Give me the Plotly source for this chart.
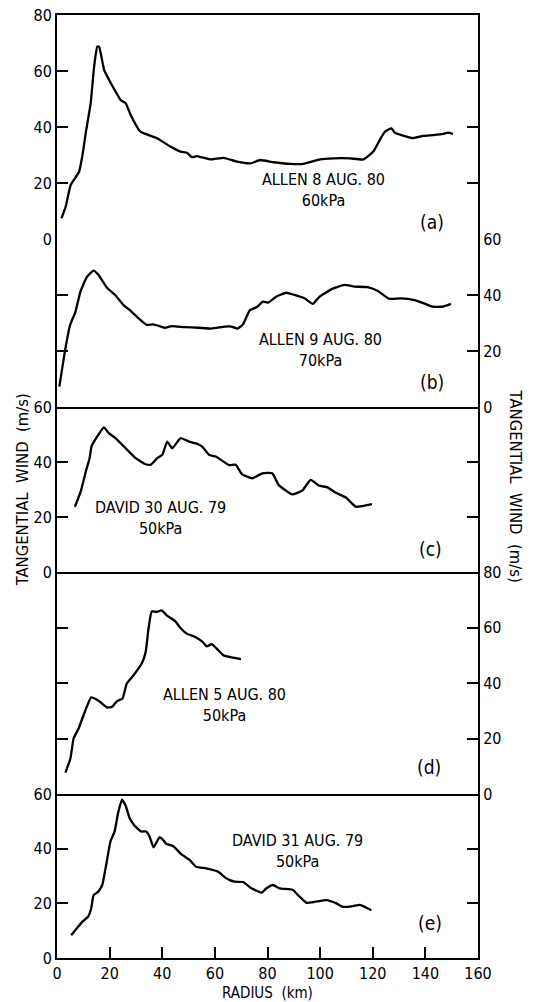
import plotly.graph_objects as go
from plotly.subplots import make_subplots

# ---------------- data (radius km, tangential wind m/s) ----------------
r_a = [1.7, 3.3, 5.2, 8.4, 9.7, 10.9, 12.8, 14.1, 15.3, 16.0, 17.9, 19.8, 22.3, 24.2, 26.1, 28.0,
       31.7, 38.0, 43.1, 46.9, 49.4, 51.3, 53.2, 58.3, 63.4, 68.4, 73.5, 77.2, 82.3, 88.6, 93.6,
       100.0, 105.0, 111.3, 116.4, 120.2, 122.7, 124.6, 127.1, 128.3, 130.9, 135.3, 139.1, 142.9,
       146.7, 148.6, 150.5]
v_a = [7.4, 11.5, 19.3, 24.0, 30.0, 37.7, 48.5, 61.5, 68.7, 68.7, 60.4, 56.8, 52.6, 49.6, 48.5, 44.3,
       38.3, 36.0, 33.0, 31.2, 30.8, 29.2, 29.6, 28.4, 29.0, 27.6, 27.0, 28.2, 27.4, 26.8, 26.8,
       28.4, 28.8, 28.8, 28.4, 31.2, 35.4, 38.3, 39.5, 38.0, 37.1, 36.0, 36.8, 37.1,
       37.5, 38.0, 37.5]

r_b = [0.9, 3.1, 5.0, 7.0, 8.9, 11.4, 13.9, 15.8, 18.9, 22.1, 25.3, 28.4, 30.9, 34.1, 36.6, 41.0,
       43.6, 48.6, 53.7, 58.7, 63.8, 66.3, 68.6, 70.7, 73.3, 75.8, 78.3, 80.2, 83.3, 87.1, 90.3,
       94.1, 97.2, 99.8, 104.2, 109.2, 113.0, 118.0, 121.8, 126.3, 130.7, 135.8, 139.5, 142.7,
       146.5, 149.7]
v_b = [7.3, 20.4, 29.3, 34.0, 41.2, 46.5, 48.7, 47.1, 42.7, 40.0, 36.4, 34.0, 31.7, 29.3, 29.5, 28.3,
       28.9, 28.5, 28.3, 28.0, 28.7, 28.7, 28.0, 29.5, 34.6, 35.6, 37.6, 37.3, 39.4, 40.8, 40.0,
       38.8, 36.8, 39.4, 42.0, 43.6, 43.0, 42.8, 41.5, 38.6, 38.8, 38.2, 37.0, 35.8,
       35.8, 36.8]

r_c = [6.8, 9.0, 11.1, 12.4, 13.1, 15.3, 17.8, 19.7, 22.2, 26.1, 29.9, 33.7, 35.6, 38.1, 40.0, 41.9,
       43.8, 47.0, 50.2, 53.3, 55.2, 57.8, 60.3, 65.4, 67.9, 70.4, 74.2, 78.0, 81.8, 84.3, 89.4,
       93.2, 96.4, 99.6, 102.8, 106.0, 109.8, 113.6, 116.1, 119.7]
v_c = [23.7, 29.2, 37.1, 41.4, 45.6, 49.3, 52.6, 50.5, 48.7, 45.0, 41.4, 39.2, 39.0, 41.4, 42.6, 47.4,
       45.0, 48.7, 47.4, 46.6, 45.6, 42.6, 42.0, 38.9, 39.0, 35.5, 34.1, 35.9, 35.9, 31.6, 28.2,
       29.6, 33.5, 31.4, 30.8, 28.8, 27.1, 23.7, 24.0, 24.7]

r_d = [3.2, 5.1, 6.3, 8.2, 10.8, 13.0, 15.8, 19.0, 20.9, 22.8, 24.9, 26.5, 29.1, 32.2, 33.7, 34.7,
       36.0, 37.9, 39.8, 41.7, 44.9, 46.8, 49.3, 52.5, 55.0, 56.9, 58.8, 60.7, 63.2, 66.4, 69.9]
v_d = [7.7, 12.8, 20.0, 23.6, 30.2, 34.8, 33.6, 31.2, 31.4, 33.5, 34.4, 39.8, 42.8, 47.0, 51.2, 59.0,
       65.8, 65.6, 66.2, 64.4, 62.3, 60.0, 57.8, 56.6, 55.1, 53.2, 54.0, 52.4, 50.0, 49.2, 48.6]

r_e = [5.4, 8.0, 9.9, 11.8, 13.0, 13.9, 15.6, 17.2, 18.8, 20.3, 21.9, 23.2, 24.7, 26.1, 27.6, 29.5,
       32.0, 33.9, 35.2, 36.7, 39.0, 40.3, 41.5, 44.1, 47.2, 50.4, 52.9, 56.7, 61.2, 64.3, 67.5,
       70.7, 73.9, 77.7, 79.6, 82.1, 84.6, 89.7, 91.6, 94.8, 97.9, 102.4, 106.2, 108.7, 112.5,
       115.1, 117.6, 119.5]
v_e = [8.3, 11.4, 13.5, 15.1, 18.1, 23.0, 24.2, 26.7, 34.7, 42.6, 46.3, 53.0, 57.9, 55.7, 51.2, 48.4,
       46.3, 46.3, 44.4, 40.5, 44.2, 43.2, 41.8, 41.0, 38.0, 35.9, 33.4, 32.8, 31.6, 29.2, 27.9,
       27.8, 25.5, 23.9, 25.5, 26.7, 25.5, 24.9, 23.0, 20.2, 20.5, 21.2, 20.0, 18.7, 19.0,
       19.4, 18.4, 17.5]

panel_names = ["ALLEN 8 AUG. 80<br>60kPa", "ALLEN 9 AUG. 80<br>70kPa", "DAVID 30 AUG. 79<br>50kPa",
               "ALLEN 5 AUG. 80<br>50kPa", "DAVID 31 AUG. 79<br>50kPa"]
panel_letters = ["(a)", "(b)", "(c)", "(d)", "(e)"]
y_max = [80, 60, 60, 80, 60]
y_side = ["left", "right", "left", "right", "left"]
x_ticks = [0, 20, 40, 60, 80, 100, 120, 140, 160]

# ---------------- figure ----------------
FONT = "DejaVu Sans Condensed, Liberation Sans Narrow, DejaVu Sans, sans-serif"
fig = make_subplots(rows=5, cols=1, shared_xaxes=True, vertical_spacing=0,
                    row_heights=[0.2375, 0.1782, 0.175, 0.2354, 0.1739])

series = [(r_a, v_a), (r_b, v_b), (r_c, v_c), (r_d, v_d), (r_e, v_e)]
for i, (rr, vv) in enumerate(series):
    fig.add_trace(go.Scatter(x=rr, y=vv, mode="lines",
                             line=dict(color="black", width=2.3, shape="spline", smoothing=0.4),
                             showlegend=False, hoverinfo="skip"), row=i + 1, col=1)

for i in range(5):
    fig.update_yaxes(row=i + 1, col=1, range=[0, y_max[i]],
                     tickvals=list(range(0, y_max[i] + 1, 20)),
                     side=y_side[i], ticks="inside", ticklen=11, tickwidth=2, tickcolor="black",
                     showline=True, linecolor="black", linewidth=2, mirror="ticks",
                     showgrid=False, zeroline=False, automargin=False,
                     tickfont=dict(family=FONT, size=16, color="black"))
    last = (i == 4)
    fig.update_xaxes(row=i + 1, col=1, range=[0, 160], tickvals=x_ticks,
                     showline=True, linecolor="black", linewidth=2, mirror=(i == 0),
                     showgrid=False, zeroline=False, automargin=False,
                     ticks="inside" if last else "", ticklen=11, tickwidth=2, tickcolor="black",
                     showticklabels=last,
                     tickfont=dict(family=FONT, size=16, color="black"))

# panel annotations (positions in each panel's domain coordinates)
name_pos = [(0.632, 0.2165), (0.627, 0.339), (0.245, 0.329), (0.397, 0.402), (0.571, 0.652)]
letter_pos = [(0.891, 0.077), (0.890, 0.150), (0.888, 0.142), (0.884, 0.123), (0.886, 0.212)]
for i in range(5):
    xr = "x domain" if i == 0 else f"x{i + 1} domain"
    yr = "y domain" if i == 0 else f"y{i + 1} domain"
    fig.add_annotation(xref=xr, yref=yr, x=name_pos[i][0], y=name_pos[i][1],
                       xanchor="center", yanchor="middle",
                       text=panel_names[i], showarrow=False, align="center",
                       font=dict(family=FONT, size=16, color="black"))
    fig.add_annotation(xref=xr, yref=yr, x=letter_pos[i][0], y=letter_pos[i][1],
                       xanchor="center", yanchor="middle",
                       text=panel_letters[i], showarrow=False,
                       font=dict(family=FONT, size=19, color="black"))

# axis titles
fig.add_annotation(xref="paper", yref="paper", x=0.5, y=-0.037, text="RADIUS  (km)",
                   showarrow=False, xanchor="center", yanchor="middle",
                   font=dict(family=FONT, size=15, color="black"))
fig.add_annotation(xref="paper", yref="paper", x=-0.083, y=0.496, text="TANGENTIAL  WIND  (m/s)",
                   showarrow=False, textangle=-90, xanchor="center", yanchor="middle",
                   font=dict(family=FONT, size=16.5, color="black"))
fig.add_annotation(xref="paper", yref="paper", x=1.09, y=0.50, text="TANGENTIAL  WIND  (m/s)",
                   showarrow=False, textangle=90, xanchor="center", yanchor="middle",
                   font=dict(family=FONT, size=16.5, color="black"))

fig.update_layout(template="none", width=539, height=1002, margin=dict(l=57, r=61, t=15, b=44),
                  paper_bgcolor="white", plot_bgcolor="white", showlegend=False)

# remove the browser's default 8px body margin so the figure fills the window exactly
fig.write_html("out.html", config={"displayModeBar": False, "staticPlot": True},
               post_script="document.body.style.margin='0px';document.body.style.overflow='hidden';")
